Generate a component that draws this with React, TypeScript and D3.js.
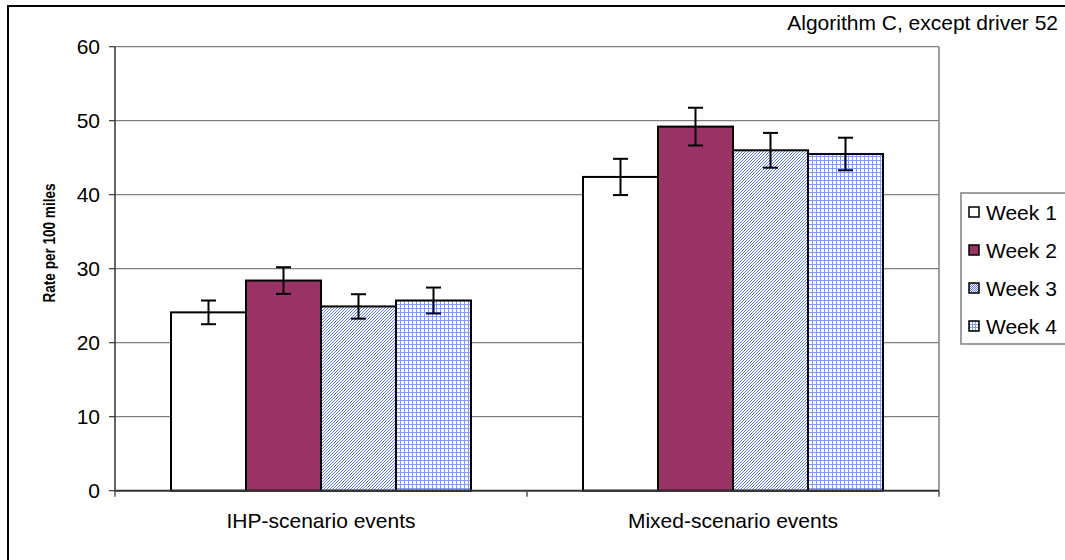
import React from "react";
import * as d3 from "d3";

const categories = ["IHP-scenario events", "Mixed-scenario events"];
const seriesNames = ["Week 1", "Week 2", "Week 3", "Week 4"];
const week1 = [24.1, 42.4];
const week2 = [28.4, 49.2];
const week3 = [24.9, 46.0];
const week4 = [25.7, 45.5];
const err1 = [1.6, 2.45];
const err2 = [1.8, 2.55];
const err3 = [1.65, 2.35];
const err4 = [1.75, 2.2];
const yTicks = [0, 10, 20, 30, 40, 50, 60];
const title = "Algorithm C, except driver 52";
const yTitle = "Rate per 100 miles";

const values = [week1, week2, week3, week4];
const errors = [err1, err2, err3, err4];
const fills = ["#ffffff", "#993366", "url(#pat3)", "url(#pat4)"];

export default function App() {
  const W = 1065;
  const H = 560;
  const left = 115;
  const right = 939;
  const top = 46.7;
  const bottom = 490.7;
  const font = "'Liberation Sans', Arial, sans-serif";
  const fs = 21;

  const x = d3.scaleBand<string>().domain(categories).range([left, right]).paddingInner(0).paddingOuter(0);
  const groupW = 300;
  const inner = d3.scaleBand<string>().domain(seriesNames).range([0, groupW]).padding(0);
  const y = d3.scaleLinear().domain([0, 60]).range([bottom, top]);

  return (
    <svg width={W} height={H} style={{ position: "absolute", left: 0, top: 0, display: "block" }}>
      <defs>
        <pattern id="pat3" patternUnits="userSpaceOnUse" width={3} height={3}>
          <rect width={3} height={3} fill="#ffffff" />
          <rect x={0} y={2} width={1} height={1} fill="#5b7cf5" />
          <rect x={1} y={1} width={1} height={1} fill="#5b7cf5" />
          <rect x={2} y={0} width={1} height={1} fill="#5b7cf5" />
        </pattern>
        <pattern id="pat4" patternUnits="userSpaceOnUse" width={4} height={4}>
          <rect width={4} height={4} fill="#ffffff" />
          <rect x={0} y={0} width={4} height={1} fill="#7d9bff" />
          <rect x={0} y={0} width={1} height={4} fill="#7d9bff" />
        </pattern>
        <pattern id="leg3" patternUnits="userSpaceOnUse" width={2} height={2}>
          <rect width={2} height={2} fill="#ffffff" />
          <rect width={1} height={1} fill="#5b7cf5" />
          <rect x={1} y={1} width={1} height={1} fill="#5b7cf5" />
        </pattern>
        <pattern id="leg4" patternUnits="userSpaceOnUse" width={3} height={3}>
          <rect width={3} height={3} fill="#ffffff" />
          <rect x={0} y={0} width={3} height={1} fill="#7d9bff" />
          <rect x={0} y={0} width={1} height={3} fill="#7d9bff" />
        </pattern>
      </defs>

      <rect x={0} y={0} width={W} height={H} fill="#ffffff" />
      {/* outer border */}
      <rect x={8} y={6} width={W + 20} height={H + 20} fill="none" stroke="#000" strokeWidth={2} />

      {/* title */}
      <text x={1058} y={30} textAnchor="end" fontFamily={font} fontSize={fs} fill="#000">{title}</text>

      {/* gridlines */}
      {yTicks.filter((t) => t > 0).map((t) => (
        <line key={"g" + t} x1={left} x2={right} y1={y(t)} y2={y(t)} stroke="#808080" strokeWidth={1.2} />
      ))}
      {/* plot right border */}
      <line x1={right} x2={right} y1={top} y2={bottom} stroke="#808080" strokeWidth={1.5} />

      {/* bars */}
      {categories.map((c, ci) => {
        const gx = (x(c) as number) + (x.bandwidth() - groupW) / 2;
        return seriesNames.map((s, si) => {
          const v = values[si][ci];
          const bx = gx + (inner(s) as number);
          const bw = inner.bandwidth();
          return (
            <rect key={c + s} x={bx} y={y(v)} width={bw} height={bottom - y(v)} fill={fills[si]} stroke="#000" strokeWidth={2} />
          );
        });
      })}

      {/* error bars */}
      {categories.map((c, ci) => {
        const gx = (x(c) as number) + (x.bandwidth() - groupW) / 2;
        return seriesNames.map((s, si) => {
          const v = values[si][ci];
          const e = errors[si][ci];
          const cx = gx + (inner(s) as number) + inner.bandwidth() / 2;
          return (
            <g key={"e" + c + s} stroke="#000" strokeWidth={2}>
              <line x1={cx} x2={cx} y1={y(v + e)} y2={y(v - e)} />
              <line x1={cx - 7.5} x2={cx + 7.5} y1={y(v + e)} y2={y(v + e)} />
              <line x1={cx - 7.5} x2={cx + 7.5} y1={y(v - e)} y2={y(v - e)} />
            </g>
          );
        });
      })}

      {/* y axis */}
      <line x1={left} x2={left} y1={top} y2={bottom + 1} stroke="#333" strokeWidth={1.5} />
      {yTicks.map((t) => (
        <g key={"t" + t}>
          <line x1={left - 6} x2={left} y1={y(t)} y2={y(t)} stroke="#333" strokeWidth={1.2} />
          <text x={100} y={y(t)} dy="0.36em" textAnchor="end" fontFamily={font} fontSize={fs} fill="#000">{t}</text>
        </g>
      ))}

      {/* x axis */}
      <line x1={left} x2={right} y1={bottom} y2={bottom} stroke="#333" strokeWidth={2} />
      {[left, left + x.bandwidth(), right].map((tx, i) => (
        <line key={"xt" + i} x1={tx} x2={tx} y1={bottom} y2={bottom + 6} stroke="#555" strokeWidth={1.5} />
      ))}
      {categories.map((c) => (
        <text key={"cl" + c} x={(x(c) as number) + x.bandwidth() / 2} y={528} textAnchor="middle" fontFamily={font} fontSize={fs} fill="#000">{c}</text>
      ))}

      {/* y title */}
      <text transform={`translate(55,243) rotate(-90)`} textAnchor="middle" fontFamily={font} fontSize={17} fontWeight="bold" fill="#000" textLength={119} lengthAdjust="spacingAndGlyphs">{yTitle}</text>

      {/* legend */}
      <rect x={961} y={193} width={120} height={151} fill="#fff" stroke="#808080" strokeWidth={1.5} />
      {seriesNames.map((s, i) => {
        const cy = 212 + i * 38;
        const lf = ["#ffffff", "#993366", "url(#leg3)", "url(#leg4)"][i];
        return (
          <g key={"l" + s}>
            <rect x={969} y={cy - 5} width={10} height={10} fill={lf} stroke="#000" strokeWidth={1.5} />
            <text x={986} y={cy} dy="0.36em" fontFamily={font} fontSize={fs} fill="#000">{s}</text>
          </g>
        );
      })}
    </svg>
  );
}
